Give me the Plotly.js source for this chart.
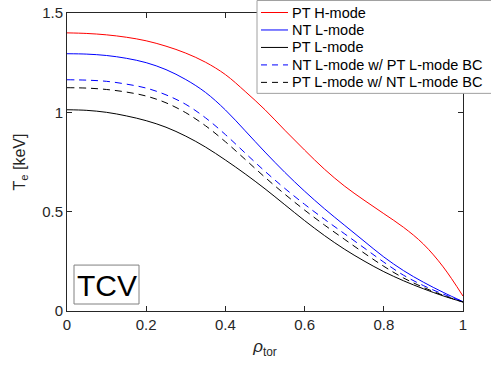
<!DOCTYPE html>
<html>
<head>
<meta charset="utf-8">
<script src="https://cdn.plot.ly/plotly-3.0.1.min.js"></script>
<style>html,body{margin:0;padding:0;background:#fff;}#chart{width:491px;height:371px;}</style>
</head>
<body>
<div id="chart"></div>
<script>
const rho = [0, 0.05, 0.1, 0.15, 0.2, 0.25, 0.3, 0.35, 0.4, 0.45, 0.5,
             0.55, 0.6, 0.65, 0.7, 0.75, 0.8, 0.85, 0.9, 0.95, 1.0];
const ptHmode     = [1.400, 1.397, 1.390, 1.378, 1.360, 1.333, 1.298, 1.252, 1.190, 1.105, 1.013,
                     0.910, 0.810, 0.714, 0.630, 0.558, 0.490, 0.421, 0.337, 0.222, 0.075];
const ntLmode     = [1.295, 1.293, 1.286, 1.272, 1.250, 1.215, 1.165, 1.100, 1.012, 0.907, 0.800,
                     0.698, 0.603, 0.515, 0.433, 0.352, 0.272, 0.203, 0.145, 0.094, 0.047];
const ptLmode     = [1.013, 1.010, 1.000, 0.982, 0.958, 0.925, 0.880, 0.825, 0.760, 0.690, 0.615,
                     0.535, 0.455, 0.380, 0.312, 0.252, 0.198, 0.152, 0.112, 0.076, 0.045];
const ntLmodePtBC = [1.164, 1.162, 1.156, 1.142, 1.122, 1.088, 1.040, 0.972, 0.888, 0.795, 0.703,
                     0.617, 0.537, 0.462, 0.390, 0.318, 0.246, 0.180, 0.128, 0.085, 0.047];
const ptLmodeNtBC = [1.124, 1.122, 1.115, 1.102, 1.082, 1.048, 0.998, 0.932, 0.852, 0.763, 0.673,
                     0.588, 0.508, 0.433, 0.362, 0.292, 0.225, 0.166, 0.119, 0.079, 0.045];
const names  = ["PT H-mode", "NT L-mode", "PT L-mode", "NT L-mode w/ PT L-mode BC", "PT L-mode w/ NT L-mode BC"];
const colors = ['#ff0000', '#0000ff', '#000000', '#0000ff', '#000000'];
const dashes = ['solid', 'solid', 'solid', '7px,5px', '7px,5px'];
const series = [ptHmode, ntLmode, ptLmode, ntLmodePtBC, ptLmodeNtBC];
const xTicks = [0, 0.2, 0.4, 0.6, 0.8, 1];
const xTickText = ["0", "0.2", "0.4", "0.6", "0.8", "1"];
const yTicks = [0, 0.5, 1, 1.5];
const yTickText = ["0", "0.5", "1", "1.5"];

const W = 491, H = 371, ML = 67, MR = 28, MT = 12.5, MB = 60;
const PW = W - ML - MR, PH = H - MT - MB;
const px2x = p => (p - ML) / PW;
const py2y = p => (H - MB - p) / PH;

const data = series.map((y, i) => ({
  x: rho, y: y, name: names[i], type: 'scatter', mode: 'lines', showlegend: false,
  line: {color: colors[i], width: 1, dash: dashes[i], shape: 'spline', smoothing: 1, simplify: false}
}));

// MATLAB-style legend box (drawn as shapes + annotations)
const shapes = [{
  type: 'rect', xref: 'paper', yref: 'paper', layer: 'above',
  x0: px2x(257), x1: px2x(520), y0: py2y(93), y1: py2y(0),
  line: {color: '#a0a0a0', width: 1}, fillcolor: '#ffffff'
}];
const annotations = [];
const rowY = [12, 29.5, 47, 64.5, 82];
names.forEach((n, i) => {
  shapes.push({type: 'line', xref: 'paper', yref: 'paper', layer: 'above',
    x0: px2x(261), x1: px2x(288), y0: py2y(rowY[i]), y1: py2y(rowY[i]),
    line: {color: colors[i], width: 1, dash: dashes[i] === 'solid' ? 'solid' : '6px,5px'}});
  annotations.push({text: n, xref: 'paper', yref: 'paper', x: px2x(290), y: py2y(rowY[i]),
    xanchor: 'left', yanchor: 'middle', showarrow: false,
    font: {size: 14.5, color: '#000'}});
});
// TCV label box
shapes.push({type: 'rect', xref: 'paper', yref: 'paper', layer: 'above',
  x0: px2x(74), x1: px2x(139), y0: py2y(304), y1: py2y(265),
  line: {color: '#808080', width: 1}, fillcolor: '#ffffff'});
annotations.push({text: 'TCV', xref: 'paper', yref: 'paper', x: px2x(106.5), y: py2y(285),
  xanchor: 'center', yanchor: 'middle', showarrow: false, font: {size: 30, color: '#000'}});

const axColor = '#262626';
const layout = {
  width: W, height: H,
  margin: {l: ML, r: MR, t: MT, b: MB, autoexpand: false},
  paper_bgcolor: '#fff', plot_bgcolor: '#fff',
  font: {family: 'Liberation Sans, Arial, sans-serif', size: 15, color: axColor},
  showlegend: false,
  xaxis: {range: [0, 1], tickvals: xTicks, ticktext: xTickText, ticks: 'inside', ticklen: 5,
          tickcolor: axColor, showline: true, linecolor: axColor, linewidth: 1, mirror: 'ticks',
          showgrid: false, zeroline: false, tickfont: {size: 15},
          title: {text: '<i>ρ</i><sub>tor</sub>', font: {size: 17, color: axColor}, standoff: 8}},
  yaxis: {range: [0, 1.5], tickvals: yTicks, ticktext: yTickText, ticks: 'inside', ticklen: 5,
          tickcolor: axColor, showline: true, linecolor: axColor, linewidth: 1, mirror: 'ticks',
          showgrid: false, zeroline: false, tickfont: {size: 15},
          title: {text: 'T<sub>e</sub> [keV]', font: {size: 16, color: axColor}, standoff: 12}},
  shapes: shapes,
  annotations: annotations
};
Plotly.newPlot('chart', data, layout, {displayModeBar: false, staticPlot: true});
</script>
</body>
</html>
